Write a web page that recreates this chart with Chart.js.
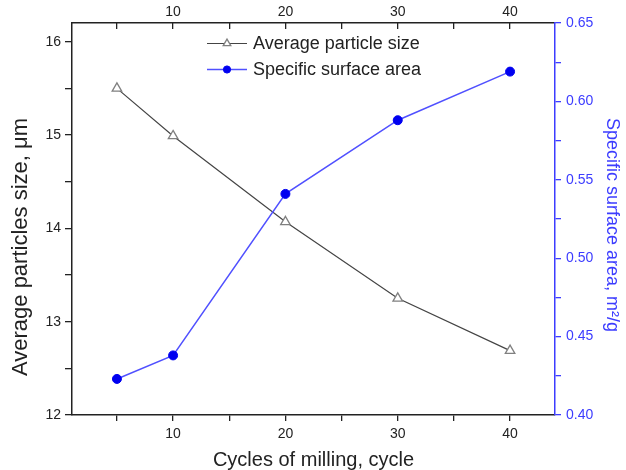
<!DOCTYPE html>
<html><head><meta charset="utf-8">
<script src="https://cdn.jsdelivr.net/npm/chart.js@4/dist/chart.umd.min.js"></script>
<style>html,body{margin:0;padding:0;background:#fff;}#wrap{width:626px;height:470px;}</style>
</head><body><div id="wrap"><canvas id="c" width="626" height="470"></canvas></div>
<script>
// ---- data ----
const cycles = [5, 10, 20, 30, 40];
const particleSize = [15.50, 14.99, 14.07, 13.25, 12.69];
const surfaceArea = [0.423, 0.438, 0.541, 0.588, 0.619];
const xTickLabels = [10, 20, 30, 40];
const leftTickLabels = [12, 13, 14, 15, 16];
const rightTickLabels = [0.40, 0.45, 0.50, 0.55, 0.60, 0.65];
const seriesNames = ['Average particle size', 'Specific surface area'];
const xTitle = 'Cycles of milling, cycle';
const leftTitle = 'Average particles size, μm';
const rightTitle = 'Specific surface area, m²/g';

// ---- styles ----
const FONT = "'Liberation Sans', Arial, sans-serif";
const BLUE = '#3c3cff';
const DARK = '#222';
const near = (v, s) => Math.abs(v / s - Math.round(v / s)) < 1e-6;
const keep = step => s => { s.ticks = s.ticks.filter(t => near(t.value, step)); };
const inList = (list, v) => list.some(r => Math.abs(r - v) < 1e-6);

const xCommon = {
  type: 'linear', min: 1, max: 44,
  afterBuildTicks: keep(5),
  border: { color: DARK, width: 1.5 },
  ticks: { stepSize: 5, autoSkip: false, maxRotation: 0, color: DARK,
           font: { family: FONT, size: 14 },
           callback: v => inList(xTickLabels, v) ? String(v) : '' }
};

const legendPlugin = {
  id: 'insideLegend',
  afterDraw(chart) {
    const ctx = chart.ctx;
    const rows = [43.5, 69.5];
    chart.data.datasets.forEach((ds, i) => {
      const y = rows[i];
      ctx.save();
      ctx.strokeStyle = ds.borderColor; ctx.lineWidth = ds.borderWidth;
      ctx.beginPath(); ctx.moveTo(207, y); ctx.lineTo(247, y); ctx.stroke();
      ctx.fillStyle = ds.pointBackgroundColor; ctx.strokeStyle = ds.pointBorderColor;
      ctx.lineWidth = ds.pointBorderWidth;
      Chart.helpers.drawPoint(ctx, { pointStyle: ds.pointStyle, radius: ds.pointRadius * 0.8, borderWidth: ds.pointBorderWidth, rotation: 0 }, 227, y);
      ctx.fillStyle = DARK; ctx.font = '18px ' + FONT; ctx.textBaseline = 'middle'; ctx.textAlign = 'left';
      ctx.fillText(ds.label, 253, y + 1);
      ctx.restore();
    });
    // left axis title
    ctx.save();
    ctx.translate(21, 247); ctx.rotate(-Math.PI / 2);
    ctx.fillStyle = DARK; ctx.font = '22px ' + FONT; ctx.textAlign = 'center'; ctx.textBaseline = 'middle';
    ctx.fillText(leftTitle, 0, 0);
    ctx.restore();
    // right axis title
    ctx.save();
    ctx.translate(612, 225); ctx.rotate(Math.PI / 2);
    ctx.fillStyle = BLUE; ctx.font = '18px ' + FONT; ctx.textAlign = 'center'; ctx.textBaseline = 'middle';
    ctx.fillText(rightTitle, 0, 0);
    ctx.restore();
  }
};

new Chart(document.getElementById('c'), {
  type: 'line',
  data: {
    datasets: [
      { label: seriesNames[0], data: cycles.map((c, i) => ({ x: c, y: particleSize[i] })), yAxisID: 'y',
        borderColor: '#444', borderWidth: 1.2, pointStyle: 'triangle', pointRadius: 5.5,
        pointBackgroundColor: '#fff', pointBorderColor: '#808080', pointBorderWidth: 1.3, order: 1, tension: 0 },
      { label: seriesNames[1], data: cycles.map((c, i) => ({ x: c, y: surfaceArea[i] })), yAxisID: 'y2',
        borderColor: '#5050ff', borderWidth: 1.5, pointStyle: 'circle', pointRadius: 4.5,
        pointBackgroundColor: '#0000f0', pointBorderColor: '#0000f0', pointBorderWidth: 1, order: 0, tension: 0 }
    ]
  },
  options: {
    responsive: false, animation: false, devicePixelRatio: 1,
    layout: { padding: 0 },
    plugins: { legend: { display: false }, tooltip: { enabled: false } },
    scales: {
      x: Object.assign({}, xCommon, {
        position: 'bottom',
        afterFit: s => { s.height = 55; },
        grid: { drawOnChartArea: false, drawTicks: true, tickLength: 6, color: DARK, lineWidth: 1.3 },
        ticks: Object.assign({}, xCommon.ticks, { padding: 5 }),
        title: { display: true, text: xTitle, color: DARK, font: { family: FONT, size: 20, lineHeight: 1 }, padding: { top: 0, bottom: 0 } }
      }),
      x2: Object.assign({}, xCommon, {
        position: 'top',
        afterFit: s => { s.height = 23; },
        grid: { drawOnChartArea: false, drawTicks: true, tickLength: -6, color: DARK, lineWidth: 1.3 },
        ticks: Object.assign({}, xCommon.ticks, { padding: 8 })
      }),
      y: {
        type: 'linear', position: 'left', min: 12, max: 16.2,
        afterBuildTicks: keep(0.5),
        afterFit: s => { s.width = 72; },
        border: { color: DARK, width: 1.5 },
        grid: { drawOnChartArea: false, tickLength: 7, color: DARK, lineWidth: 1.3 },
        ticks: { stepSize: 0.5, autoSkip: false, color: DARK, padding: 4, font: { family: FONT, size: 14 },
                 callback: v => inList(leftTickLabels, v) ? String(v) : '' }
      },
      y2: {
        type: 'linear', position: 'right', min: 0.40, max: 0.65,
        afterBuildTicks: keep(0.025),
        afterFit: s => { s.width = 71; },
        border: { color: BLUE, width: 1.5 },
        grid: { drawOnChartArea: false, tickLength: 6, color: BLUE, lineWidth: 1.3 },
        ticks: { stepSize: 0.025, autoSkip: false, color: BLUE, padding: 5, font: { family: FONT, size: 14 },
                 callback: v => inList(rightTickLabels, v) ? v.toFixed(2) : '' }
      }
    }
  },
  plugins: [legendPlugin]
});
</script>
</body></html>
